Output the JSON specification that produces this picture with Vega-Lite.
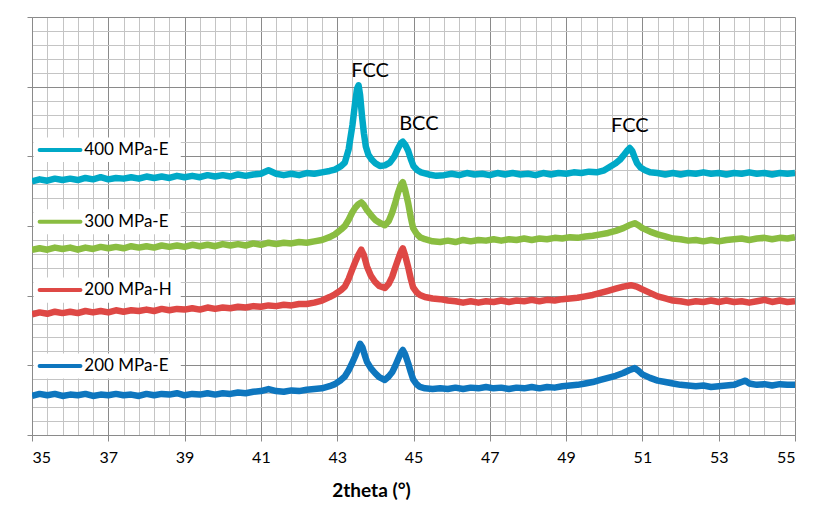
{
"$schema":"https://vega.github.io/schema/vega-lite/v6.json",
"width":763,"height":418,"autosize":"none",
"padding":{"left":32,"top":17,"right":26,"bottom":71},
"background":"white",
"config":{"view":{"stroke":null},"font":"Lato","axis":{"labelFont":"Lato","titleFont":"Lato"}},
"datasets":{
"xrd":[
{"s":"E400","x":35.0,"y":3.64},{"s":"E400","x":35.2,"y":3.67},{"s":"E400","x":35.4,"y":3.65},{"s":"E400","x":35.6,"y":3.68},{"s":"E400","x":35.8,"y":3.66},{"s":"E400","x":36.0,"y":3.68},{"s":"E400","x":36.2,"y":3.66},{"s":"E400","x":36.4,"y":3.69},{"s":"E400","x":36.6,"y":3.67},{"s":"E400","x":36.8,"y":3.70},{"s":"E400","x":37.0,"y":3.67},{"s":"E400","x":37.2,"y":3.69},{"s":"E400","x":37.4,"y":3.68},{"s":"E400","x":37.6,"y":3.70},{"s":"E400","x":37.8,"y":3.68},{"s":"E400","x":38.0,"y":3.71},{"s":"E400","x":38.2,"y":3.69},{"s":"E400","x":38.4,"y":3.71},{"s":"E400","x":38.6,"y":3.69},{"s":"E400","x":38.8,"y":3.72},{"s":"E400","x":39.0,"y":3.70},{"s":"E400","x":39.2,"y":3.72},{"s":"E400","x":39.4,"y":3.70},{"s":"E400","x":39.6,"y":3.73},{"s":"E400","x":39.8,"y":3.71},{"s":"E400","x":40.0,"y":3.73},{"s":"E400","x":40.2,"y":3.71},{"s":"E400","x":40.4,"y":3.74},{"s":"E400","x":40.6,"y":3.72},{"s":"E400","x":40.8,"y":3.74},{"s":"E400","x":41.0,"y":3.75},{"s":"E400","x":41.2,"y":3.80},{"s":"E400","x":41.4,"y":3.75},{"s":"E400","x":41.6,"y":3.73},{"s":"E400","x":41.8,"y":3.75},{"s":"E400","x":42.0,"y":3.73},{"s":"E400","x":42.2,"y":3.76},{"s":"E400","x":42.4,"y":3.75},{"s":"E400","x":42.6,"y":3.77},{"s":"E400","x":42.8,"y":3.79},{"s":"E400","x":42.94,"y":3.81},{"s":"E400","x":43.1,"y":3.86},{"s":"E400","x":43.2,"y":3.91},{"s":"E400","x":43.3,"y":4.10},{"s":"E400","x":43.4,"y":4.45},{"s":"E400","x":43.47,"y":4.77},{"s":"E400","x":43.52,"y":4.97},{"s":"E400","x":43.56,"y":5.02},{"s":"E400","x":43.6,"y":4.88},{"s":"E400","x":43.65,"y":4.58},{"s":"E400","x":43.7,"y":4.33},{"s":"E400","x":43.75,"y":4.14},{"s":"E400","x":43.82,"y":4.02},{"s":"E400","x":43.91,"y":3.95},{"s":"E400","x":44.0,"y":3.90},{"s":"E400","x":44.12,"y":3.86},{"s":"E400","x":44.25,"y":3.87},{"s":"E400","x":44.38,"y":3.91},{"s":"E400","x":44.5,"y":4.00},{"s":"E400","x":44.6,"y":4.12},{"s":"E400","x":44.67,"y":4.19},{"s":"E400","x":44.72,"y":4.21},{"s":"E400","x":44.78,"y":4.17},{"s":"E400","x":44.86,"y":4.08},{"s":"E400","x":44.93,"y":3.96},{"s":"E400","x":45.0,"y":3.86},{"s":"E400","x":45.1,"y":3.80},{"s":"E400","x":45.2,"y":3.77},{"s":"E400","x":45.4,"y":3.74},{"s":"E400","x":45.6,"y":3.72},{"s":"E400","x":45.8,"y":3.73},{"s":"E400","x":46.0,"y":3.75},{"s":"E400","x":46.2,"y":3.73},{"s":"E400","x":46.4,"y":3.76},{"s":"E400","x":46.6,"y":3.74},{"s":"E400","x":46.8,"y":3.75},{"s":"E400","x":47.0,"y":3.73},{"s":"E400","x":47.2,"y":3.76},{"s":"E400","x":47.4,"y":3.74},{"s":"E400","x":47.6,"y":3.76},{"s":"E400","x":47.8,"y":3.74},{"s":"E400","x":48.0,"y":3.75},{"s":"E400","x":48.2,"y":3.73},{"s":"E400","x":48.4,"y":3.76},{"s":"E400","x":48.6,"y":3.74},{"s":"E400","x":48.8,"y":3.76},{"s":"E400","x":49.0,"y":3.75},{"s":"E400","x":49.2,"y":3.77},{"s":"E400","x":49.4,"y":3.76},{"s":"E400","x":49.6,"y":3.78},{"s":"E400","x":49.8,"y":3.77},{"s":"E400","x":50.0,"y":3.80},{"s":"E400","x":50.15,"y":3.85},{"s":"E400","x":50.3,"y":3.90},{"s":"E400","x":50.41,"y":3.95},{"s":"E400","x":50.5,"y":4.01},{"s":"E400","x":50.6,"y":4.08},{"s":"E400","x":50.67,"y":4.12},{"s":"E400","x":50.73,"y":4.08},{"s":"E400","x":50.8,"y":3.98},{"s":"E400","x":50.86,"y":3.90},{"s":"E400","x":50.95,"y":3.84},{"s":"E400","x":51.07,"y":3.80},{"s":"E400","x":51.2,"y":3.77},{"s":"E400","x":51.4,"y":3.76},{"s":"E400","x":51.6,"y":3.74},{"s":"E400","x":51.8,"y":3.76},{"s":"E400","x":52.0,"y":3.74},{"s":"E400","x":52.2,"y":3.76},{"s":"E400","x":52.4,"y":3.75},{"s":"E400","x":52.6,"y":3.77},{"s":"E400","x":52.8,"y":3.75},{"s":"E400","x":53.0,"y":3.76},{"s":"E400","x":53.2,"y":3.74},{"s":"E400","x":53.4,"y":3.76},{"s":"E400","x":53.6,"y":3.75},{"s":"E400","x":53.8,"y":3.77},{"s":"E400","x":54.0,"y":3.75},{"s":"E400","x":54.2,"y":3.76},{"s":"E400","x":54.4,"y":3.74},{"s":"E400","x":54.6,"y":3.76},{"s":"E400","x":54.8,"y":3.75},{"s":"E400","x":55.0,"y":3.76},
{"s":"E300","x":35.0,"y":2.66},{"s":"E300","x":35.2,"y":2.68},{"s":"E300","x":35.4,"y":2.66},{"s":"E300","x":35.6,"y":2.69},{"s":"E300","x":35.8,"y":2.67},{"s":"E300","x":36.0,"y":2.69},{"s":"E300","x":36.2,"y":2.66},{"s":"E300","x":36.4,"y":2.69},{"s":"E300","x":36.6,"y":2.67},{"s":"E300","x":36.8,"y":2.70},{"s":"E300","x":37.0,"y":2.68},{"s":"E300","x":37.2,"y":2.70},{"s":"E300","x":37.4,"y":2.68},{"s":"E300","x":37.6,"y":2.71},{"s":"E300","x":37.8,"y":2.69},{"s":"E300","x":38.0,"y":2.71},{"s":"E300","x":38.2,"y":2.69},{"s":"E300","x":38.4,"y":2.72},{"s":"E300","x":38.6,"y":2.70},{"s":"E300","x":38.8,"y":2.72},{"s":"E300","x":39.0,"y":2.70},{"s":"E300","x":39.2,"y":2.73},{"s":"E300","x":39.4,"y":2.71},{"s":"E300","x":39.6,"y":2.73},{"s":"E300","x":39.8,"y":2.71},{"s":"E300","x":40.0,"y":2.74},{"s":"E300","x":40.2,"y":2.72},{"s":"E300","x":40.4,"y":2.74},{"s":"E300","x":40.6,"y":2.72},{"s":"E300","x":40.8,"y":2.75},{"s":"E300","x":41.0,"y":2.73},{"s":"E300","x":41.2,"y":2.76},{"s":"E300","x":41.4,"y":2.74},{"s":"E300","x":41.6,"y":2.76},{"s":"E300","x":41.8,"y":2.75},{"s":"E300","x":42.0,"y":2.77},{"s":"E300","x":42.2,"y":2.76},{"s":"E300","x":42.4,"y":2.78},{"s":"E300","x":42.6,"y":2.80},{"s":"E300","x":42.8,"y":2.84},{"s":"E300","x":42.94,"y":2.88},{"s":"E300","x":43.1,"y":2.95},{"s":"E300","x":43.2,"y":3.00},{"s":"E300","x":43.3,"y":3.09},{"s":"E300","x":43.39,"y":3.19},{"s":"E300","x":43.47,"y":3.26},{"s":"E300","x":43.55,"y":3.31},{"s":"E300","x":43.63,"y":3.34},{"s":"E300","x":43.7,"y":3.30},{"s":"E300","x":43.78,"y":3.23},{"s":"E300","x":43.88,"y":3.16},{"s":"E300","x":43.99,"y":3.09},{"s":"E300","x":44.1,"y":3.05},{"s":"E300","x":44.25,"y":3.01},{"s":"E300","x":44.35,"y":3.07},{"s":"E300","x":44.44,"y":3.19},{"s":"E300","x":44.52,"y":3.33},{"s":"E300","x":44.59,"y":3.47},{"s":"E300","x":44.66,"y":3.58},{"s":"E300","x":44.72,"y":3.63},{"s":"E300","x":44.78,"y":3.52},{"s":"E300","x":44.86,"y":3.33},{"s":"E300","x":44.93,"y":3.12},{"s":"E300","x":44.99,"y":2.97},{"s":"E300","x":45.08,"y":2.89},{"s":"E300","x":45.17,"y":2.84},{"s":"E300","x":45.3,"y":2.81},{"s":"E300","x":45.5,"y":2.78},{"s":"E300","x":45.7,"y":2.77},{"s":"E300","x":45.9,"y":2.79},{"s":"E300","x":46.1,"y":2.77},{"s":"E300","x":46.3,"y":2.80},{"s":"E300","x":46.5,"y":2.78},{"s":"E300","x":46.7,"y":2.80},{"s":"E300","x":46.9,"y":2.79},{"s":"E300","x":47.1,"y":2.81},{"s":"E300","x":47.3,"y":2.79},{"s":"E300","x":47.5,"y":2.81},{"s":"E300","x":47.7,"y":2.80},{"s":"E300","x":47.9,"y":2.82},{"s":"E300","x":48.1,"y":2.80},{"s":"E300","x":48.3,"y":2.82},{"s":"E300","x":48.5,"y":2.81},{"s":"E300","x":48.7,"y":2.83},{"s":"E300","x":48.9,"y":2.82},{"s":"E300","x":49.1,"y":2.84},{"s":"E300","x":49.3,"y":2.83},{"s":"E300","x":49.5,"y":2.85},{"s":"E300","x":49.7,"y":2.86},{"s":"E300","x":49.9,"y":2.88},{"s":"E300","x":50.1,"y":2.90},{"s":"E300","x":50.3,"y":2.93},{"s":"E300","x":50.5,"y":2.97},{"s":"E300","x":50.65,"y":3.01},{"s":"E300","x":50.8,"y":3.04},{"s":"E300","x":50.9,"y":3.01},{"s":"E300","x":51.0,"y":2.97},{"s":"E300","x":51.2,"y":2.92},{"s":"E300","x":51.4,"y":2.88},{"s":"E300","x":51.6,"y":2.85},{"s":"E300","x":51.8,"y":2.82},{"s":"E300","x":52.0,"y":2.81},{"s":"E300","x":52.2,"y":2.79},{"s":"E300","x":52.4,"y":2.80},{"s":"E300","x":52.6,"y":2.78},{"s":"E300","x":52.8,"y":2.80},{"s":"E300","x":53.0,"y":2.78},{"s":"E300","x":53.2,"y":2.80},{"s":"E300","x":53.4,"y":2.81},{"s":"E300","x":53.6,"y":2.82},{"s":"E300","x":53.8,"y":2.80},{"s":"E300","x":54.0,"y":2.82},{"s":"E300","x":54.2,"y":2.83},{"s":"E300","x":54.4,"y":2.81},{"s":"E300","x":54.6,"y":2.83},{"s":"E300","x":54.8,"y":2.82},{"s":"E300","x":55.0,"y":2.84},
{"s":"H200","x":35.0,"y":1.73},{"s":"H200","x":35.2,"y":1.76},{"s":"H200","x":35.4,"y":1.74},{"s":"H200","x":35.6,"y":1.77},{"s":"H200","x":35.8,"y":1.75},{"s":"H200","x":36.0,"y":1.77},{"s":"H200","x":36.2,"y":1.75},{"s":"H200","x":36.4,"y":1.78},{"s":"H200","x":36.6,"y":1.76},{"s":"H200","x":36.8,"y":1.78},{"s":"H200","x":37.0,"y":1.76},{"s":"H200","x":37.2,"y":1.79},{"s":"H200","x":37.4,"y":1.77},{"s":"H200","x":37.6,"y":1.79},{"s":"H200","x":37.8,"y":1.78},{"s":"H200","x":38.0,"y":1.80},{"s":"H200","x":38.2,"y":1.78},{"s":"H200","x":38.4,"y":1.81},{"s":"H200","x":38.6,"y":1.79},{"s":"H200","x":38.8,"y":1.81},{"s":"H200","x":39.0,"y":1.80},{"s":"H200","x":39.2,"y":1.82},{"s":"H200","x":39.4,"y":1.80},{"s":"H200","x":39.6,"y":1.83},{"s":"H200","x":39.8,"y":1.81},{"s":"H200","x":40.0,"y":1.83},{"s":"H200","x":40.2,"y":1.82},{"s":"H200","x":40.4,"y":1.84},{"s":"H200","x":40.6,"y":1.83},{"s":"H200","x":40.8,"y":1.85},{"s":"H200","x":41.0,"y":1.84},{"s":"H200","x":41.2,"y":1.86},{"s":"H200","x":41.4,"y":1.85},{"s":"H200","x":41.6,"y":1.87},{"s":"H200","x":41.8,"y":1.86},{"s":"H200","x":42.0,"y":1.88},{"s":"H200","x":42.2,"y":1.88},{"s":"H200","x":42.4,"y":1.90},{"s":"H200","x":42.6,"y":1.93},{"s":"H200","x":42.8,"y":1.98},{"s":"H200","x":42.94,"y":2.02},{"s":"H200","x":43.1,"y":2.08},{"s":"H200","x":43.2,"y":2.13},{"s":"H200","x":43.3,"y":2.24},{"s":"H200","x":43.39,"y":2.37},{"s":"H200","x":43.47,"y":2.48},{"s":"H200","x":43.55,"y":2.58},{"s":"H200","x":43.63,"y":2.66},{"s":"H200","x":43.7,"y":2.58},{"s":"H200","x":43.78,"y":2.42},{"s":"H200","x":43.88,"y":2.29},{"s":"H200","x":43.99,"y":2.20},{"s":"H200","x":44.1,"y":2.14},{"s":"H200","x":44.25,"y":2.11},{"s":"H200","x":44.35,"y":2.17},{"s":"H200","x":44.44,"y":2.27},{"s":"H200","x":44.52,"y":2.40},{"s":"H200","x":44.59,"y":2.51},{"s":"H200","x":44.66,"y":2.62},{"s":"H200","x":44.72,"y":2.68},{"s":"H200","x":44.78,"y":2.58},{"s":"H200","x":44.86,"y":2.41},{"s":"H200","x":44.93,"y":2.24},{"s":"H200","x":44.99,"y":2.12},{"s":"H200","x":45.08,"y":2.05},{"s":"H200","x":45.17,"y":2.01},{"s":"H200","x":45.3,"y":1.98},{"s":"H200","x":45.5,"y":1.96},{"s":"H200","x":45.7,"y":1.95},{"s":"H200","x":45.9,"y":1.93},{"s":"H200","x":46.1,"y":1.92},{"s":"H200","x":46.3,"y":1.90},{"s":"H200","x":46.5,"y":1.92},{"s":"H200","x":46.7,"y":1.90},{"s":"H200","x":46.9,"y":1.92},{"s":"H200","x":47.1,"y":1.91},{"s":"H200","x":47.3,"y":1.93},{"s":"H200","x":47.5,"y":1.91},{"s":"H200","x":47.7,"y":1.93},{"s":"H200","x":47.9,"y":1.92},{"s":"H200","x":48.1,"y":1.94},{"s":"H200","x":48.3,"y":1.92},{"s":"H200","x":48.5,"y":1.94},{"s":"H200","x":48.7,"y":1.93},{"s":"H200","x":48.9,"y":1.95},{"s":"H200","x":49.1,"y":1.96},{"s":"H200","x":49.3,"y":1.97},{"s":"H200","x":49.5,"y":1.99},{"s":"H200","x":49.7,"y":2.01},{"s":"H200","x":49.9,"y":2.04},{"s":"H200","x":50.1,"y":2.07},{"s":"H200","x":50.3,"y":2.10},{"s":"H200","x":50.5,"y":2.13},{"s":"H200","x":50.7,"y":2.15},{"s":"H200","x":50.85,"y":2.13},{"s":"H200","x":51.0,"y":2.09},{"s":"H200","x":51.2,"y":2.04},{"s":"H200","x":51.4,"y":1.99},{"s":"H200","x":51.6,"y":1.96},{"s":"H200","x":51.8,"y":1.93},{"s":"H200","x":52.0,"y":1.92},{"s":"H200","x":52.2,"y":1.90},{"s":"H200","x":52.4,"y":1.92},{"s":"H200","x":52.6,"y":1.91},{"s":"H200","x":52.8,"y":1.93},{"s":"H200","x":53.0,"y":1.91},{"s":"H200","x":53.2,"y":1.93},{"s":"H200","x":53.4,"y":1.91},{"s":"H200","x":53.6,"y":1.92},{"s":"H200","x":53.8,"y":1.90},{"s":"H200","x":54.0,"y":1.92},{"s":"H200","x":54.2,"y":1.94},{"s":"H200","x":54.4,"y":1.91},{"s":"H200","x":54.6,"y":1.93},{"s":"H200","x":54.8,"y":1.91},{"s":"H200","x":55.0,"y":1.92},
{"s":"E200","x":35.0,"y":0.56},{"s":"E200","x":35.2,"y":0.59},{"s":"E200","x":35.4,"y":0.57},{"s":"E200","x":35.6,"y":0.59},{"s":"E200","x":35.8,"y":0.56},{"s":"E200","x":36.0,"y":0.58},{"s":"E200","x":36.2,"y":0.57},{"s":"E200","x":36.4,"y":0.59},{"s":"E200","x":36.6,"y":0.56},{"s":"E200","x":36.8,"y":0.58},{"s":"E200","x":37.0,"y":0.57},{"s":"E200","x":37.2,"y":0.59},{"s":"E200","x":37.4,"y":0.57},{"s":"E200","x":37.6,"y":0.58},{"s":"E200","x":37.8,"y":0.56},{"s":"E200","x":38.0,"y":0.59},{"s":"E200","x":38.2,"y":0.57},{"s":"E200","x":38.4,"y":0.59},{"s":"E200","x":38.6,"y":0.58},{"s":"E200","x":38.8,"y":0.60},{"s":"E200","x":39.0,"y":0.57},{"s":"E200","x":39.2,"y":0.59},{"s":"E200","x":39.4,"y":0.58},{"s":"E200","x":39.6,"y":0.60},{"s":"E200","x":39.8,"y":0.58},{"s":"E200","x":40.0,"y":0.60},{"s":"E200","x":40.2,"y":0.59},{"s":"E200","x":40.4,"y":0.61},{"s":"E200","x":40.6,"y":0.60},{"s":"E200","x":40.8,"y":0.62},{"s":"E200","x":41.0,"y":0.63},{"s":"E200","x":41.2,"y":0.66},{"s":"E200","x":41.4,"y":0.63},{"s":"E200","x":41.6,"y":0.62},{"s":"E200","x":41.8,"y":0.64},{"s":"E200","x":42.0,"y":0.63},{"s":"E200","x":42.2,"y":0.65},{"s":"E200","x":42.4,"y":0.66},{"s":"E200","x":42.6,"y":0.67},{"s":"E200","x":42.8,"y":0.70},{"s":"E200","x":42.94,"y":0.73},{"s":"E200","x":43.1,"y":0.79},{"s":"E200","x":43.2,"y":0.84},{"s":"E200","x":43.3,"y":0.93},{"s":"E200","x":43.39,"y":1.03},{"s":"E200","x":43.47,"y":1.13},{"s":"E200","x":43.55,"y":1.24},{"s":"E200","x":43.6,"y":1.31},{"s":"E200","x":43.66,"y":1.26},{"s":"E200","x":43.72,"y":1.15},{"s":"E200","x":43.78,"y":1.05},{"s":"E200","x":43.88,"y":0.96},{"s":"E200","x":43.99,"y":0.89},{"s":"E200","x":44.1,"y":0.83},{"s":"E200","x":44.25,"y":0.79},{"s":"E200","x":44.35,"y":0.84},{"s":"E200","x":44.44,"y":0.90},{"s":"E200","x":44.52,"y":0.99},{"s":"E200","x":44.59,"y":1.08},{"s":"E200","x":44.66,"y":1.17},{"s":"E200","x":44.72,"y":1.22},{"s":"E200","x":44.78,"y":1.16},{"s":"E200","x":44.86,"y":1.03},{"s":"E200","x":44.93,"y":0.90},{"s":"E200","x":44.99,"y":0.80},{"s":"E200","x":45.08,"y":0.73},{"s":"E200","x":45.17,"y":0.69},{"s":"E200","x":45.3,"y":0.67},{"s":"E200","x":45.5,"y":0.66},{"s":"E200","x":45.7,"y":0.67},{"s":"E200","x":45.9,"y":0.66},{"s":"E200","x":46.1,"y":0.68},{"s":"E200","x":46.3,"y":0.66},{"s":"E200","x":46.5,"y":0.68},{"s":"E200","x":46.7,"y":0.67},{"s":"E200","x":46.9,"y":0.69},{"s":"E200","x":47.1,"y":0.67},{"s":"E200","x":47.3,"y":0.68},{"s":"E200","x":47.5,"y":0.66},{"s":"E200","x":47.7,"y":0.68},{"s":"E200","x":47.9,"y":0.67},{"s":"E200","x":48.1,"y":0.69},{"s":"E200","x":48.3,"y":0.67},{"s":"E200","x":48.5,"y":0.69},{"s":"E200","x":48.7,"y":0.68},{"s":"E200","x":48.9,"y":0.70},{"s":"E200","x":49.1,"y":0.71},{"s":"E200","x":49.3,"y":0.72},{"s":"E200","x":49.5,"y":0.74},{"s":"E200","x":49.7,"y":0.76},{"s":"E200","x":49.9,"y":0.79},{"s":"E200","x":50.1,"y":0.82},{"s":"E200","x":50.3,"y":0.85},{"s":"E200","x":50.5,"y":0.89},{"s":"E200","x":50.65,"y":0.93},{"s":"E200","x":50.8,"y":0.96},{"s":"E200","x":50.9,"y":0.92},{"s":"E200","x":51.0,"y":0.87},{"s":"E200","x":51.2,"y":0.82},{"s":"E200","x":51.4,"y":0.78},{"s":"E200","x":51.6,"y":0.76},{"s":"E200","x":51.8,"y":0.74},{"s":"E200","x":52.0,"y":0.72},{"s":"E200","x":52.2,"y":0.71},{"s":"E200","x":52.4,"y":0.70},{"s":"E200","x":52.6,"y":0.71},{"s":"E200","x":52.8,"y":0.69},{"s":"E200","x":53.0,"y":0.70},{"s":"E200","x":53.2,"y":0.71},{"s":"E200","x":53.4,"y":0.72},{"s":"E200","x":53.6,"y":0.76},{"s":"E200","x":53.7,"y":0.78},{"s":"E200","x":53.8,"y":0.74},{"s":"E200","x":54.0,"y":0.72},{"s":"E200","x":54.2,"y":0.73},{"s":"E200","x":54.4,"y":0.71},{"s":"E200","x":54.6,"y":0.73},{"s":"E200","x":54.8,"y":0.72},{"s":"E200","x":55.0,"y":0.72}
],
"leg":[
{"s":"E400","label":"400 MPa-E","y":4.09,"lo":3.92,"hi":4.27},
{"s":"E300","label":"300 MPa-E","y":3.06,"lo":2.88,"hi":3.24},
{"s":"H200","label":"200 MPa-H","y":2.08,"lo":1.90,"hi":2.26},
{"s":"E200","label":"200 MPa-E","y":0.99,"lo":0.81,"hi":1.17}
],
"ann":[
{"t":"FCC","x":43.86,"y":5.22},
{"t":"BCC","x":45.14,"y":4.46},
{"t":"FCC","x":50.67,"y":4.43}
]
},
"resolve":{"axis":{"x":"independent","y":"independent"}},
"layer":[
{"data":{"name":"xrd"},
 "mark":{"type":"line","strokeWidth":6.5,"strokeJoin":"round","clip":true},
 "encoding":{
  "x":{"field":"x","type":"quantitative","scale":{"domain":[35,55],"nice":false,"zero":false},
   "axis":{"orient":"top","values":[35.4,35.8,36.2,36.6,37.4,37.8,38.2,38.6,39.4,39.8,40.2,40.6,41.4,41.8,42.2,42.6,43.4,43.8,44.2,44.6,45.4,45.8,46.2,46.6,47.4,47.8,48.2,48.6,49.4,49.8,50.2,50.6,51.4,51.8,52.2,52.6,53.4,53.8,54.2,54.6],"grid":true,"gridColor":"#C4C4C4","gridWidth":1,"labels":false,"ticks":false,"domain":false,"title":null}},
  "y":{"field":"y","type":"quantitative","scale":{"domain":[0,6],"nice":false,"zero":false},
   "axis":{"orient":"right","values":[0.2,0.4,0.6,0.8,1.2,1.4,1.6,1.8,2.2,2.4,2.6,2.8,3.2,3.4,3.6,3.8,4.2,4.4,4.6,4.8,5.2,5.4,5.6,5.8],"grid":true,"gridColor":"#C4C4C4","gridWidth":1,"labels":false,"ticks":false,"domain":false,"title":null}},
  "color":{"field":"s","type":"nominal","scale":{"domain":["E400","E300","H200","E200"],"range":["#00A9C7","#8ABD41","#DE4845","#0E76BE"]},"legend":null}
 }},
{"data":{"name":"leg"},
 "mark":{"type":"rect","fill":"white"},
 "encoding":{
  "x":{"datum":35.04,"type":"quantitative","axis":null},
  "x2":{"datum":38.9},
  "y":{"field":"lo","type":"quantitative","axis":null},
  "y2":{"field":"hi"}
 }},
{"data":{"name":"leg"},
 "mark":{"type":"rule","strokeWidth":4,"strokeCap":"round"},
 "encoding":{
  "x":{"datum":35.2,"type":"quantitative","axis":null},
  "x2":{"datum":36.27},
  "y":{"field":"y","type":"quantitative","axis":null},
  "color":{"field":"s","type":"nominal","legend":null}
 }},
{"data":{"name":"leg"},
 "mark":{"type":"text","align":"left","baseline":"middle","fontSize":17,"color":"#000000","font":"Lato"},
 "encoding":{
  "x":{"datum":36.37,"type":"quantitative","axis":null},
  "y":{"field":"y","type":"quantitative","axis":null},
  "text":{"field":"label"}
 }},
{"data":{"name":"ann"},
 "mark":{"type":"text","align":"center","baseline":"middle","fontSize":20,"color":"#000000","font":"Lato"},
 "encoding":{
  "x":{"field":"x","type":"quantitative",
   "axis":{"orient":"bottom","values":[35,37,39,41,43,45,47,49,51,53,55],"format":"d","grid":true,"gridColor":"#8A8A8A","gridWidth":1,"domain":true,"domainColor":"#8A8A8A","ticks":true,"tickColor":"#8A8A8A","tickSize":6,"labelFontSize":16,"labelColor":"#000000","labelPadding":8,"labelFont":"Lato","title":"2theta (°)","titleFontSize":19,"titleFontWeight":"bold","titleColor":"#000000","titleX":339,"titleY":55,"titleBaseline":"middle","titleAnchor":"middle"}},
  "y":{"field":"y","type":"quantitative",
   "axis":{"orient":"left","values":[0,1,2,3,4,5,6],"grid":true,"gridColor":"#8A8A8A","gridWidth":1,"domain":true,"domainColor":"#8A8A8A","ticks":true,"tickColor":"#8A8A8A","tickSize":5,"labels":false,"title":null}},
  "text":{"field":"t"}
 }}
]
}
